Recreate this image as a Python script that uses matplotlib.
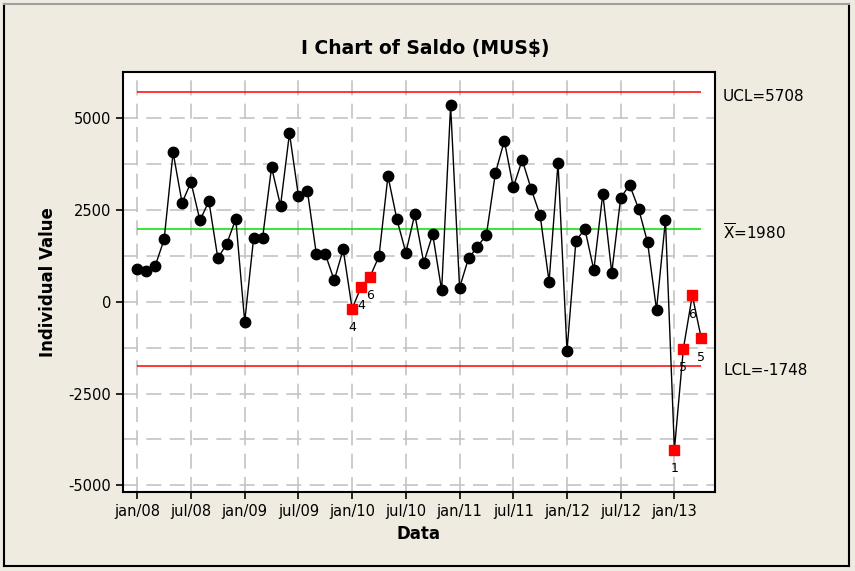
import matplotlib
matplotlib.use('Agg')
import matplotlib.pyplot as plt
from matplotlib.lines import Line2D
from matplotlib.ticker import MultipleLocator
import numpy as np

plt.rcParams['axes.unicode_minus'] = False

# monthly balance values, jan/08 .. apr/13
saldo = [890, 845, 972, 1698, 4066, 2695, 3250, 2215, 2733, 1181, 1579, 2251,
         -544, 1742, 1742, 3658, 2613, 4583, 2885, 3021, 1298, 1298, 582, 1426,
         -190, 400, 680, 1235, 3421, 2243, 1334, 2379, 1062, 1834, 310, 5345,
         381, 1181, 1497, 1824, 3495, 4382, 3114, 3857, 3068, 2352, 544, 3775,
         -1342, 1660, 1979, 863, 2940, 789, 2831, 3176, 2531, 1617, -218, 2224,
         -4028, -1279, 174, -996]

ucl = 5708
mean = 1980
lcl = -1748

# points failing tests (observation number -> test number)
flag_obs = [25, 26, 27, 61, 62, 63, 64]
flag_test = ['4', '4', '6', '1', '5', '6', '5']

tick_obs = [1, 7, 13, 19, 25, 31, 37, 43, 49, 55, 61]
tick_labels = ['jan/08', 'jul/08', 'jan/09', 'jul/09', 'jan/10', 'jul/10',
               'jan/11', 'jul/11', 'jan/12', 'jul/12', 'jan/13']

BG = '#EFEBE1'

fig = plt.figure(figsize=(8.55, 5.71), dpi=100, facecolor=BG)
ax = fig.add_axes([0.1435, 0.1378, 0.6924, 0.7366])
ax.set_facecolor('white')

obs = np.arange(1, len(saldo) + 1)
vals = np.array(saldo)

ax.set_xlim(-0.63, 65.5)
ax.set_ylim(-5188, 6260)

# grid
ax.yaxis.set_major_locator(MultipleLocator(2500))
ax.yaxis.set_minor_locator(MultipleLocator(1250))
ax.set_xticks(tick_obs)
ax.set_xticklabels(tick_labels)
ax.grid(True, which='both', axis='y', color='#C4C4C4', linestyle=(0, (9, 5)), linewidth=1.2)
ax.grid(True, which='major', axis='x', color='#C4C4C4', linestyle=(0, (9, 5)), linewidth=1.2)
ax.set_axisbelow(True)

# control limits
ax.hlines([ucl, lcl], obs[0], obs[-1], colors='#FF0000', linewidth=1.1, zorder=2)
ax.hlines(mean, obs[0], obs[-1], colors='#00E000', linewidth=1.1, zorder=2)

ax.plot(obs, vals, color='black', linewidth=1.0, zorder=3)
ok = ~np.isin(obs, flag_obs)
ax.plot(obs[ok], vals[ok], 'o', color='black', markersize=7.5, zorder=4)
ax.plot(flag_obs, vals[np.array(flag_obs) - 1], 's', color='#FF0000', markersize=6.8, zorder=5)
for o, t in zip(flag_obs, flag_test):
    ax.annotate(t, (o, saldo[o - 1]), xytext=(0, -13.5), textcoords='offset points',
                ha='center', va='center', fontsize=9, zorder=6)

# limit labels on the right
ax.annotate('UCL=5708', (1, ucl), xycoords=('axes fraction', 'data'), xytext=(6, -3),
            textcoords='offset points', ha='left', va='center', fontsize=11)
ax.annotate(r'$\overline{\mathrm{X}}$=1980', (1, mean), xycoords=('axes fraction', 'data'),
            xytext=(6, -3), textcoords='offset points', ha='left', va='center', fontsize=11)
ax.annotate('LCL=-1748', (1, lcl), xycoords=('axes fraction', 'data'), xytext=(6, -3),
            textcoords='offset points', ha='left', va='center', fontsize=11)

for s in ax.spines.values():
    s.set_linewidth(1.5)
ax.tick_params(which='major', direction='out', length=5, width=1.2, labelsize=10.5,
               top=False, right=False)
ax.tick_params(which='minor', length=0)

ax.set_xlabel('Data', fontsize=12, fontweight='bold', labelpad=4)
ax.set_ylabel('Individual Value', fontsize=12, fontweight='bold', labelpad=8)
fig.text(0.497, 0.915, 'I Chart of Saldo (MUS$)', ha='center', va='center',
         fontsize=13.5, fontweight='bold')

# outer frame
W, H = 855, 571
fr = dict(transform=fig.transFigure, linewidth=1.5)
fig.lines.append(Line2D([4 / W, 4 / W], [1 - 4 / H, 1 - 566 / H], color='black', **fr))
fig.lines.append(Line2D([849 / W, 849 / W], [1 - 4 / H, 1 - 566 / H], color='black', **fr))
fig.lines.append(Line2D([4 / W, 849 / W], [1 - 566 / H, 1 - 566 / H], color='black', **fr))
fig.lines.append(Line2D([4 / W, 849 / W], [1 - 4 / H, 1 - 4 / H], color='#A0A0A0', **fr))

fig.savefig('out.png', dpi=100, facecolor=BG)
